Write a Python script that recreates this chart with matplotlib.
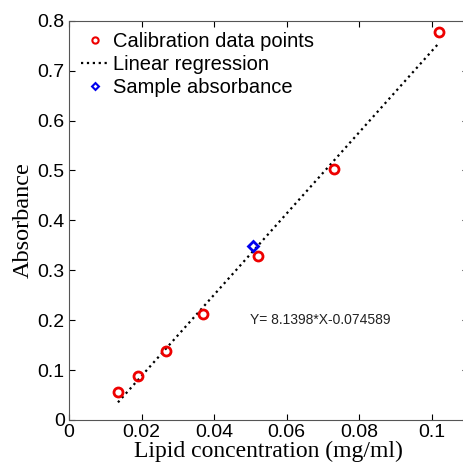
import matplotlib
matplotlib.use("Agg")
import matplotlib.pyplot as plt
import numpy as np

conc = [0.0135, 0.0189, 0.0267, 0.037, 0.052, 0.073, 0.102]
absorb = [0.056, 0.088, 0.139, 0.212, 0.329, 0.502, 0.777]
sample_x = [0.0506]
sample_y = [0.348]
slope = 8.1398
intercept = -0.074589
xticks = [0, 0.02, 0.04, 0.06, 0.08, 0.1]
xticklabels = ["0", "0.02", "0.04", "0.06", "0.08", "0.1"]
yticks = [0, 0.1, 0.2, 0.3, 0.4, 0.5, 0.6, 0.7, 0.8]
yticklabels = ["0", "0.1", "0.2", "0.3", "0.4", "0.5", "0.6", "0.7", "0.8"]

fig = plt.figure(figsize=(4.63, 4.68), dpi=100)
ax = fig.add_axes([0.149, 0.1026, 0.862, 0.853])

fx = np.array([conc[0], conc[-1]])
ax.plot(conc, absorb, 'o', mfc='none', mec='#ee0000', mew=2, ms=6.5,
        label='Calibration data points', zorder=3)
ax.plot(fx, slope * fx + intercept, ':', color='black', lw=1.6,
        label='Linear regression', zorder=2)
ax.plot(sample_x, sample_y, 'D', mfc='none', mec='#0000ee', mew=2, ms=5,
        label='Sample absorbance', zorder=4)

ax.text(0.0499, 0.2, "Y= 8.1398*X-0.074589", fontsize=10,
        family='Liberation Sans', va='center', ha='left', color='#222222')

ax.set_xlim(0, 0.11)
ax.set_ylim(0, 0.8)
ax.set_xticks(xticks)
ax.set_xticklabels(xticklabels, family='Liberation Sans', fontsize=14)
ax.set_yticks(yticks)
ax.set_yticklabels(yticklabels, family='Liberation Sans', fontsize=14)
ax.tick_params(direction='in', top=True, right=True, length=4, width=0.8, pad=3)
ax.tick_params(axis='y', which='major', right=True)
for s in ax.spines.values():
    s.set_linewidth(0.8)
    s.set_color('#555555')
ax.spines['right'].set_visible(False)

ax.set_xlabel("Lipid concentration (mg/ml)", family='Liberation Serif', fontsize=17, labelpad=0)
ax.set_ylabel("Absorbance", family='Liberation Serif', fontsize=17.5, labelpad=3)

leg = ax.legend(loc='upper left', frameon=False, prop={'family': 'Liberation Sans', 'size': 14.5},
                handlelength=1.4, handletextpad=0.2, labelspacing=0.2,
                borderaxespad=0, borderpad=0, bbox_to_anchor=(0.03, 0.972))
leg.legend_handles[0].set_markersize(4.5)
leg.legend_handles[0].set_markeredgewidth(1.5)
leg.legend_handles[2].set_markersize(3.5)
leg.legend_handles[2].set_markeredgewidth(1.5)

fig.savefig("out.png", dpi=100)
